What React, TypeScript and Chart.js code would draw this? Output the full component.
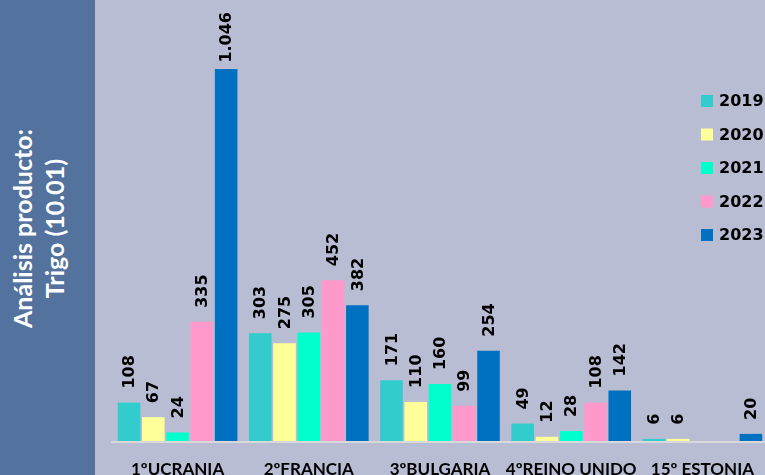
import React, { useEffect, useRef } from "react";
import { Chart, registerables } from "chart.js";
Chart.register(...registerables);

const categories = ["1ºUCRANIA", "2ºFRANCIA", "3ºBULGARIA", "4ºREINO UNIDO", "15º ESTONIA"];
const years = ["2019", "2020", "2021", "2022", "2023"];
const v2019 = [108, 303, 171, 49, 6];
const v2020 = [67, 275, 110, 12, 6];
const v2021: (number | null)[] = [24, 305, 160, 28, null];
const v2022: (number | null)[] = [335, 452, 99, 108, null];
const v2023 = [1046, 382, 254, 142, 20];
const seriesValues = [v2019, v2020, v2021, v2022, v2023];
const colors = ["#33cccc", "#ffff99", "#00ffcc", "#ff99cc", "#0070c0"];
const titleLines = ["Análisis producto:", "Trigo (10.01)"];

const fmt = (v: number) => String(v).replace(/\B(?=(\d{3})+(?!\d))/g, ".");

const overlay = {
  id: "overlay",
  afterDatasetsDraw(chart: any) {
    const { ctx, chartArea } = chart;
    ctx.save();
    // axis line
    ctx.strokeStyle = "#d9d9d9";
    ctx.lineWidth = 2;
    ctx.beginPath();
    ctx.moveTo(chartArea.left - 1, chartArea.bottom + 1);
    ctx.lineTo(chartArea.right + 10, chartArea.bottom + 1);
    ctx.stroke();
    // value labels
    ctx.fillStyle = "#000";
    ctx.font = "bold 16px 'DejaVu Sans'";
    chart.data.datasets.forEach((ds: any, i: number) => {
      const meta = chart.getDatasetMeta(i);
      meta.data.forEach((el: any, j: number) => {
        const v = ds.data[j];
        if (v === null || v === undefined) return;
        const text = fmt(v);
        const w = ctx.measureText(text).width;
        let start = el.y - 14;
        if (start - w < 12) start = 12 + w;
        ctx.save();
        ctx.translate(el.x + 1, start);
        ctx.rotate(-Math.PI / 2);
        ctx.textAlign = "left";
        ctx.textBaseline = "middle";
        ctx.fillText(text, 0, 0);
        ctx.restore();
      });
    });
    // category labels
    const xs = chart.scales.x;
    ctx.font = "bold 17px Lato";
    ctx.textAlign = "center";
    ctx.textBaseline = "alphabetic";
    categories.forEach((c, j) => {
      ctx.fillText(c, xs.getPixelForValue(j), 474.5);
    });
    // legend
    ctx.font = "bold 16px 'DejaVu Sans'";
    ctx.textAlign = "left";
    ctx.textBaseline = "middle";
    years.forEach((y, i) => {
      const cy = 101 + i * 33.5;
      ctx.fillStyle = colors[i];
      ctx.fillRect(606, cy - 6, 12, 12);
      ctx.fillStyle = "#000";
      ctx.fillText(y, 624, cy + 1);
    });
    ctx.restore();
  },
};

export default function App() {
  const ref = useRef<HTMLCanvasElement>(null);
  useEffect(() => {
    document.body.style.margin = "0";
    document.body.style.overflow = "hidden";
    const chart = new Chart(ref.current!, {
      type: "bar",
      data: {
        labels: categories,
        datasets: years.map((y, i) => ({
          label: y,
          data: seriesValues[i],
          backgroundColor: colors[i],
          borderWidth: 0,
          categoryPercentage: 0.925,
          barPercentage: 0.93,
        })),
      },
      options: {
        responsive: false,
        animation: false,
        layout: { padding: { left: 17, right: 5, top: 0, bottom: 34 } },
        plugins: { legend: { display: false }, tooltip: { enabled: false } },
        scales: {
          x: { display: false },
          y: { display: false, min: 0, max: 1240 },
        },
      },
      plugins: [overlay],
    });
    return () => chart.destroy();
  }, []);
  return (
    <div
      style={{
        position: "fixed",
        left: 0,
        top: 0,
        width: 765,
        height: 475,
        overflow: "hidden",
        background: "#b8bdd3",
      }}
    >
      <div
        style={{
          position: "absolute",
          left: 0,
          top: 0,
          width: 95,
          height: 475,
          background: "#53729d",
          overflow: "hidden",
        }}
      >
        <div
          style={{
            position: "absolute",
            width: 475,
            height: 95,
            left: (95 - 475) / 2,
            top: (475 - 95) / 2,
            transform: "rotate(-90deg) translate(9px, -10px)",
            display: "flex",
            flexDirection: "column",
            justifyContent: "center",
            alignItems: "center",
            color: "#fff",
            fontFamily: "Lato, sans-serif",
            fontWeight: 700,
            fontSize: 25,
            lineHeight: "32px",
            textAlign: "center",
          }}
        >
          {titleLines.map((t) => (
            <div key={t}>{t}</div>
          ))}
        </div>
      </div>
      <canvas
        ref={ref}
        width={678}
        height={475}
        style={{ position: "absolute", left: 95, top: 0, width: 678, height: 475 }}
      />
    </div>
  );
}
